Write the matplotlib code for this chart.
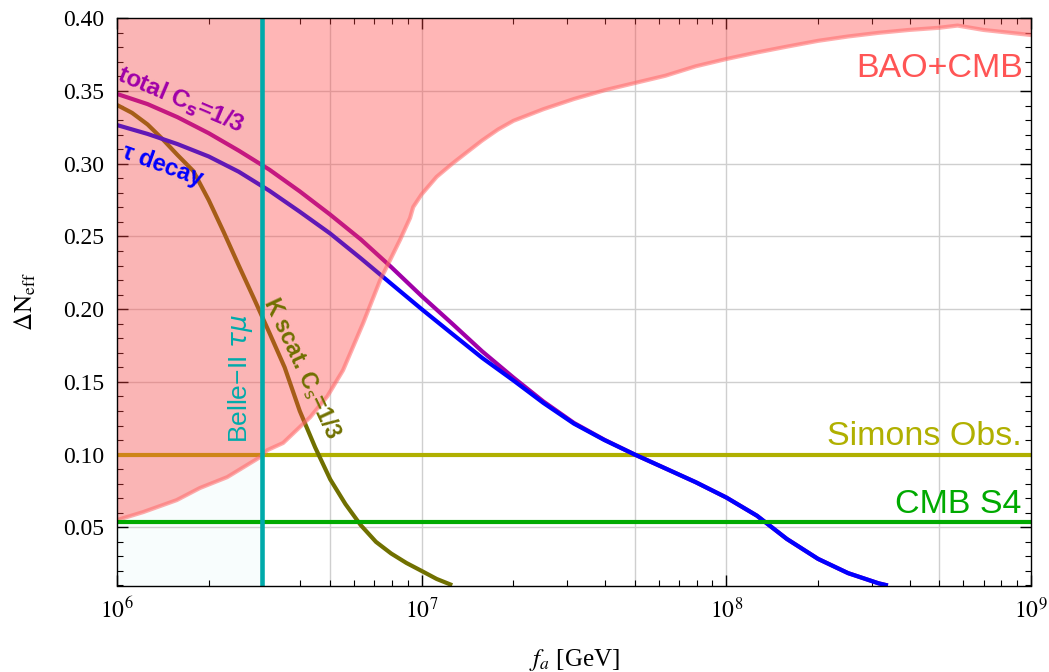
import numpy as np
import matplotlib
matplotlib.use("Agg")
import matplotlib.pyplot as plt

# ---------------- data ----------------
# BAO+CMB excluded-region boundary (region above is excluded)
bao_fa = [1.00e6, 1.22e6, 1.57e6, 1.87e6, 2.30e6, 2.95e6, 3.11e6, 3.51e6, 4.31e6,
          4.90e6, 5.52e6, 6.43e6, 7.31e6, 8.49e6, 9.16e6, 9.38e6, 1.00e7, 1.12e7,
          1.26e7, 1.41e7, 1.58e7, 1.78e7, 2.00e7, 2.51e7, 3.16e7, 3.98e7, 5.01e7,
          6.31e7, 7.94e7, 1.00e8, 1.26e8, 1.58e8, 2.00e8, 2.51e8, 3.16e8, 3.98e8,
          5.01e8, 5.74e8, 6.98e8, 1.00e9]
bao_dn = [0.055, 0.0605, 0.0687, 0.077, 0.0845, 0.0983, 0.103, 0.108, 0.1258,
          0.140, 0.158, 0.1905, 0.220, 0.2476, 0.2627, 0.2702, 0.279, 0.291,
          0.300, 0.308, 0.316, 0.3235, 0.3295, 0.3375, 0.3445, 0.3505, 0.3555,
          0.3605, 0.367, 0.372, 0.3765, 0.3805, 0.3845, 0.3875, 0.390, 0.392,
          0.3935, 0.395, 0.392, 0.3885]

# total, C_s = 1/3
total_fa = [1.00e6, 1.26e6, 1.58e6, 2.00e6, 2.51e6, 3.16e6, 3.98e6, 5.01e6, 6.31e6,
            7.94e6, 1.00e7, 1.26e7, 1.58e7, 2.00e7, 2.51e7, 3.16e7, 3.98e7, 5.01e7,
            6.31e7, 7.94e7, 1.00e8, 1.26e8, 1.58e8, 2.00e8, 2.51e8, 3.16e8, 3.39e8]
total_dn = [0.348, 0.341, 0.332, 0.321, 0.309, 0.296, 0.281, 0.265, 0.248,
            0.229, 0.209, 0.190, 0.171, 0.153, 0.1365, 0.1218, 0.1102, 0.1000,
            0.0905, 0.081, 0.0705, 0.058, 0.042, 0.0283, 0.0185, 0.0115, 0.0100]

# tau decay
tau_fa = [1.00e6, 1.26e6, 1.58e6, 2.00e6, 2.51e6, 3.16e6, 3.98e6, 5.01e6, 6.31e6,
          7.94e6, 1.00e7, 1.26e7, 1.58e7, 2.00e7, 2.51e7, 3.16e7, 3.98e7, 5.01e7,
          6.31e7, 7.94e7, 1.00e8, 1.26e8, 1.58e8, 2.00e8, 2.51e8, 3.16e8, 3.39e8]
tau_dn = [0.3266, 0.3205, 0.3135, 0.305, 0.2945, 0.2815, 0.267, 0.252, 0.235,
          0.2175, 0.200, 0.183, 0.1665, 0.151, 0.1355, 0.1213, 0.1100, 0.1000,
          0.0905, 0.081, 0.0705, 0.058, 0.042, 0.0283, 0.0185, 0.0115, 0.0100]

# K scattering, C_s = 1/3
kscat_fa = [1.00e6, 1.12e6, 1.26e6, 1.41e6, 1.58e6, 1.78e6, 2.00e6, 2.24e6, 2.51e6,
            2.82e6, 3.16e6, 3.55e6, 3.98e6, 4.47e6, 5.01e6, 5.62e6, 6.31e6, 7.08e6,
            7.94e6, 8.91e6, 1.00e7, 1.12e7, 1.26e7]
kscat_dn = [0.3404, 0.335, 0.327, 0.317, 0.306, 0.295, 0.275, 0.253, 0.230,
            0.207, 0.184, 0.160, 0.130, 0.105, 0.083, 0.066, 0.0515, 0.040,
            0.032, 0.0255, 0.020, 0.0145, 0.0102]

belle_fa = 3.0e6          # Belle-II tau-mu reach
simons_dn = 0.10          # Simons Observatory
cmbs4_dn = 0.054          # CMB S4

grid_x = [5e6, 1e7, 5e7, 1e8, 5e8]
grid_y = [0.05, 0.10, 0.15, 0.20, 0.25, 0.30, 0.35]
x_ticks = [1e6, 1e7, 1e8, 1e9]
x_ticklabels = [r"$10^{6}$", r"$10^{7}$", r"$10^{8}$", r"$10^{9}$"]
y_ticks = [0.05, 0.10, 0.15, 0.20, 0.25, 0.30, 0.35, 0.40]
y_ticklabels = ["0.05", "0.10", "0.15", "0.20", "0.25", "0.30", "0.35", "0.40"]

# ---------------- figure ----------------
plt.rcParams["font.family"] = "serif"
plt.rcParams["font.serif"] = ["Liberation Serif", "DejaVu Serif"]
plt.rcParams["mathtext.fontset"] = "stix"

W, H = 1049, 672
fig = plt.figure(figsize=(W / 100, H / 100), dpi=100)
ax = fig.add_axes([117 / W, 1 - 585.5 / H, (1031 - 117) / W, (585.5 - 18.3) / H])
ax.set_xscale("log")
xmin, xmax, ymin, ymax = 1e6, 1e9, 0.01, 0.40
ax.set_xlim(xmin, xmax)
ax.set_ylim(ymin, ymax)

# light tint left of Belle-II line
ax.axvspan(xmin, belle_fa, color="#f8fdfd", lw=0, zorder=0)

# grid
for gx in grid_x:
    ax.axvline(gx, color="#cfcfcf", lw=1.0, zorder=1)
for gy in grid_y:
    ax.axhline(gy, color="#cfcfcf", lw=1.0, zorder=1)

# curves
lw = 3.0
ax.axhline(simons_dn, color="#b0b000", lw=lw, zorder=2)
ax.plot(kscat_fa, kscat_dn, color="#707000", lw=lw, zorder=2, solid_capstyle="butt")
ax.plot(total_fa, total_dn, color="#a000a8", lw=lw, zorder=2, solid_capstyle="butt")
ax.plot(tau_fa, tau_dn, color="#0000ff", lw=lw, zorder=2.1, solid_capstyle="butt")

# BAO+CMB excluded region (drawn over the curves, translucent)
ax.fill_between(bao_fa, bao_dn, ymax + 0.05, color="#ff4040", alpha=0.38, lw=0, zorder=3)
ax.plot(bao_fa, bao_dn, color="#ff6a6a", alpha=0.55, lw=3.0, zorder=3.1)

ax.axhline(cmbs4_dn, color="#00aa00", lw=lw, zorder=3.5)
ax.axvline(belle_fa, color="#00aaaa", lw=3.3, zorder=4)

# labels
sans = "Liberation Sans"
ax.text(1.62e6, 0.3435, "total C$_\\mathbf{s}$=1/3", color="#a000a8", fontsize=17.5,
        fontweight="bold", family=sans, math_fontfamily="dejavusans",
        rotation=-23, ha="center", va="center", rotation_mode="anchor", zorder=5)
ax.text(1.41e6, 0.299, "\u03c4 decay", color="#0000ff", fontsize=17,
        fontweight="bold", family=sans,
        rotation=-20, ha="center", va="center", rotation_mode="anchor", zorder=5)
ax.text(4.06e6, 0.1595, "K scat. C$_\\mathrm{s}$=1/3", color="#707000", fontsize=16.5,
        fontweight="bold", family=sans, math_fontfamily="dejavusans",
        rotation=-65, ha="center", va="center", rotation_mode="anchor", zorder=5)
ax.text(2.55e6, 0.1526, "Belle\u2212II $\\tau\\mu$", color="#00aaaa", fontsize=19,
        family=sans, math_fontfamily="dejavusans",
        rotation=90, ha="center", va="center", rotation_mode="anchor", zorder=5)
ax.text(9.4e8, 0.3596, "BAO+CMB", color="#ff5555", fontsize=24.5, family=sans,
        ha="right", va="baseline", zorder=5)
ax.text(9.3e8, 0.1065, "Simons Obs.", color="#b0b000", fontsize=24.5, family=sans,
        ha="right", va="baseline", zorder=5)
ax.text(9.3e8, 0.0598, "CMB S4", color="#00aa00", fontsize=24.5, family=sans,
        ha="right", va="baseline", zorder=5)

# ticks
ax.set_xticks(x_ticks)
ax.set_xticklabels(x_ticklabels)
ax.set_xticks([m * 10.0 ** e for e in range(6, 9) for m in range(2, 10)], minor=True)
ax.set_xticklabels([], minor=True)
ax.set_yticks(y_ticks)
ax.set_yticklabels(y_ticklabels)
ax.set_yticks(np.arange(0.01, 0.401, 0.01), minor=True)
ax.tick_params(which="both", direction="in", top=True, right=True, labelsize=17,
               color="black")
ax.tick_params(which="major", length=8, width=1.0, pad=9)
ax.tick_params(which="minor", length=4.5, width=0.8)
for s in ax.spines.values():
    s.set_linewidth(1.0)
    s.set_color("black")
    s.set_zorder(6)

ax.set_ylabel(r"$\Delta\mathrm{N}_{\mathrm{eff}}$", fontsize=18, labelpad=18)
ax.set_xlabel(r"$f_a$ [GeV]", fontsize=18, labelpad=17)

fig.savefig("out.png", dpi=100)
